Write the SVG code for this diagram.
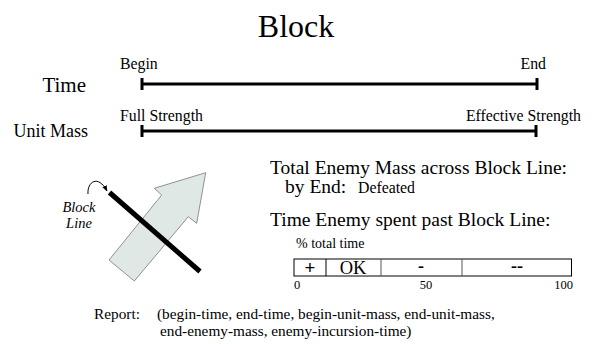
<svg xmlns="http://www.w3.org/2000/svg" width="592" height="344" viewBox="0 0 592 344">
<style>
text{font-family:"Liberation Serif","Times New Roman",serif;fill:#000}
.tl{stroke:#000;stroke-width:3;fill:none}
.tick{stroke:#000;stroke-width:3}
.lbl{font-size:15.8px}
.hd{font-size:19.5px}
.div{stroke:#555;stroke-width:1}
.rp{font-size:15.3px}
</style>
<defs>
<marker id="ah" viewBox="0 0 10 10" refX="9" refY="5" markerWidth="6" markerHeight="6" orient="auto">
<path d="M0,1 L10,5 L0,9 z" fill="#000"/>
</marker>
</defs>
<rect width="592" height="344" fill="#fff"/>
<text x="296" y="37" font-size="32" text-anchor="middle">Block</text>

<g id="time">
<text x="86" y="92" font-size="21" text-anchor="end">Time</text>
<text x="120" y="69" class="lbl">Begin</text>
<text x="546" y="69" class="lbl" text-anchor="end">End</text>
<line x1="142" y1="84" x2="537" y2="84" class="tl"/>
<line x1="142" y1="78" x2="142" y2="90" class="tick"/>
<line x1="537" y1="78" x2="537" y2="90" class="tick"/>
</g>

<g id="unitmass">
<text x="88" y="137" font-size="18" text-anchor="end">Unit Mass</text>
<text x="120" y="121" class="lbl">Full Strength</text>
<text x="581" y="121" class="lbl" text-anchor="end">Effective Strength</text>
<line x1="142" y1="131" x2="536" y2="131" class="tl"/>
<line x1="142" y1="125" x2="142" y2="137" class="tick"/>
<line x1="536" y1="125" x2="536" y2="137" class="tick"/>
</g>

<g id="arrow">
<polygon points="205.7,172.7 196.7,223.3 188.3,216.7 134.3,281 109,260 161.7,195 154.3,188.3" fill="#e0e8e6" stroke="#777" stroke-width="0.8"/>
</g>
<g id="blockline">
<line x1="109.5" y1="192.5" x2="200" y2="271.5" stroke="#000" stroke-width="5"/>
<text x="79" y="212" font-size="14.5" font-style="italic" text-anchor="middle">Block</text>
<text x="79" y="228" font-size="14.5" font-style="italic" text-anchor="middle">Line</text>
</g>
<g id="connectors">
<path d="M88,194 C87,182 98,174 107,191" fill="none" stroke="#000" stroke-width="1" marker-end="url(#ah)"/>
</g>

<g id="enemymass">
<text x="270" y="174" class="hd">Total Enemy Mass across Block Line:</text>
<text x="285" y="193" class="hd">by End:</text>
<text x="358" y="193" class="lbl">Defeated</text>
</g>

<g id="enemytime">
<text x="270" y="226" class="hd">Time Enemy spent past Block Line:</text>
<text x="296" y="248" font-size="14">% total time</text>
<rect x="294" y="259" width="277.5" height="17" fill="#fff" stroke="#000" stroke-width="1"/>
<line x1="326" y1="259" x2="326" y2="276" stroke="#000" stroke-width="1"/>
<line x1="381" y1="259" x2="381" y2="276" class="div"/>
<line x1="462" y1="259" x2="462" y2="276" class="div"/>
<text x="310" y="274" font-size="19" font-weight="bold" text-anchor="middle">+</text>
<text x="353" y="273.5" font-size="18.5" text-anchor="middle">OK</text>
<text x="421" y="272" font-size="18" font-weight="bold" text-anchor="middle">-</text>
<text x="517" y="272" font-size="18" font-weight="bold" text-anchor="middle">--</text>
<text x="294" y="289" font-size="12.5">0</text>
<text x="426" y="289" font-size="12.5" text-anchor="middle">50</text>
<text x="573" y="289" font-size="12.5" text-anchor="end">100</text>
</g>

<g id="report">
<text x="94" y="319" class="rp">Report:</text>
<text x="157" y="319" class="rp">(begin-time, end-time, begin-unit-mass, end-unit-mass,</text>
<text x="160" y="336" class="rp">end-enemy-mass, enemy-incursion-time)</text>
</g>
</svg>
